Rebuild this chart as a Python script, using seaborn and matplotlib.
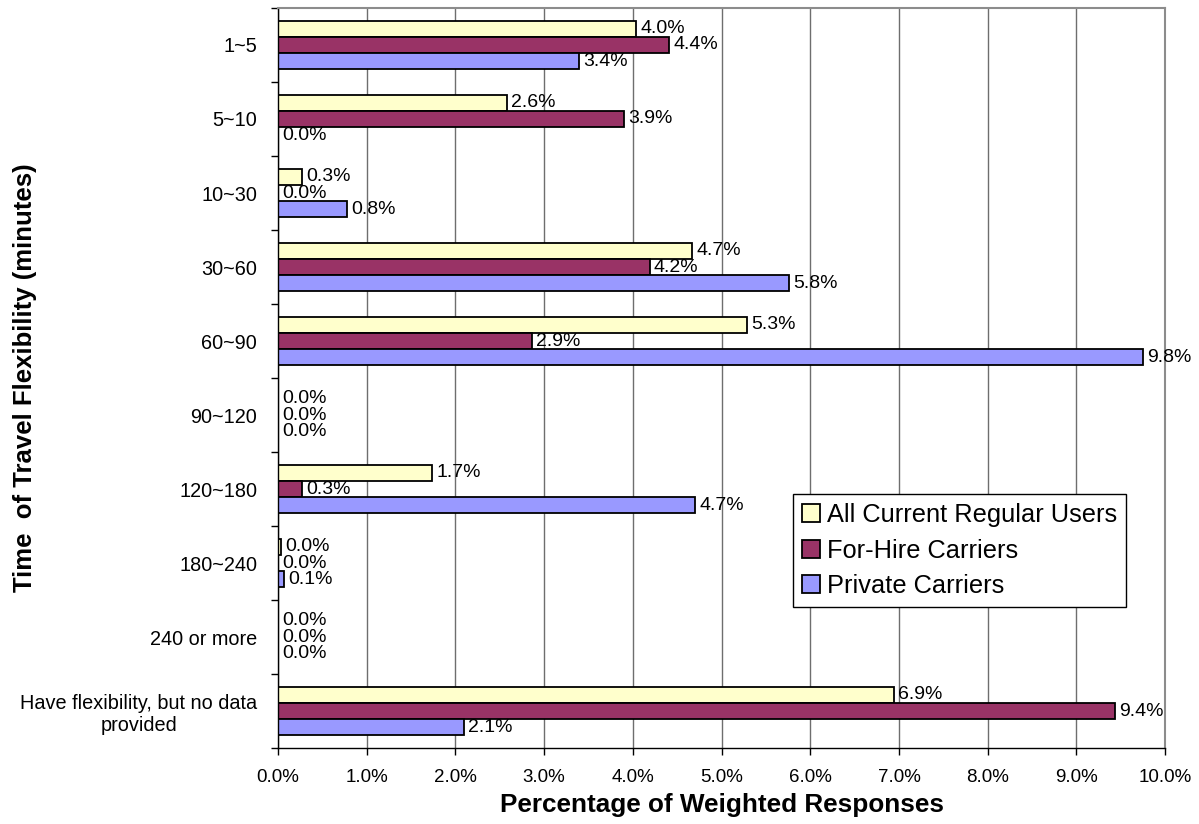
import matplotlib.pyplot as plt
from matplotlib.ticker import FixedLocator, FuncFormatter
import pandas as pd
import seaborn as sns

# values (percent of weighted responses)
categories = ["1~5", "5~10", "10~30", "30~60", "60~90", "90~120", "120~180",
              "180~240", "240 or more", "Have flexibility, but no data\nprovided"]
all_users = [4.04, 2.58, 0.27, 4.67, 5.29, 0.0, 1.74, 0.03, 0.0, 6.94]
for_hire = [4.41, 3.90, 0.0, 4.19, 2.86, 0.0, 0.27, 0.0, 0.0, 9.44]
private = [3.39, 0.0, 0.78, 5.76, 9.75, 0.0, 4.70, 0.07, 0.0, 2.10]
series_names = ["All Current Regular Users", "For-Hire Carriers", "Private Carriers"]
colors = ["#FFFFCC", "#993366", "#9999FF"]

df = pd.DataFrame({
    "category": categories * 3,
    "series": [s for s in series_names for _ in categories],
    "value": all_users + for_hire + private,
})

sns.set_style("white")
plt.rcParams["font.family"] = ["Liberation Sans", "DejaVu Sans"]
plt.rcParams.update({"text.color": "black", "axes.labelcolor": "black",
                     "xtick.color": "black", "ytick.color": "black"})

fig = plt.figure(figsize=(11.99, 8.24), dpi=100)
ax = fig.add_axes([0.2319, 0.0922, 0.7398, 0.8981])

sns.barplot(data=df, x="value", y="category", hue="series", orient="h",
            palette=colors, saturation=1, width=0.66, errorbar=None,
            edgecolor="black", linewidth=1.3, ax=ax)

# value labels at the end of every bar
for cont in ax.containers:
    ax.bar_label(cont, fmt="%.1f%%", padding=3, fontsize=14)

ax.set_xlim(0, 10)
ax.set_ylim(len(categories) - 0.5, -0.5)

# gridlines and frame
ax.set_axisbelow(True)
ax.xaxis.grid(True, color="#6e6e6e", linewidth=1)
ax.yaxis.grid(False)
for side in ["left", "bottom"]:
    ax.spines[side].set_color("black")
    ax.spines[side].set_linewidth(1)
for side in ["top", "right"]:
    ax.spines[side].set_color("#8c8c8c")
    ax.spines[side].set_linewidth(1.5)

ax.xaxis.set_major_locator(FixedLocator(range(0, 11)))
ax.xaxis.set_major_formatter(FuncFormatter(lambda v, p: f"{v:.1f}%"))
ax.tick_params(axis="x", length=5, width=1, color="black", direction="out",
               pad=10, labelsize=13.5, bottom=True)
ax.yaxis.set_minor_locator(FixedLocator([i - 0.5 for i in range(len(categories) + 1)]))
ax.tick_params(axis="y", which="major", length=0, pad=15, labelsize=14.3)
ax.tick_params(axis="y", which="minor", length=5, width=1, color="black",
               direction="out", left=True)
for lab in ax.get_yticklabels():
    lab.set_multialignment("center")

ax.set_xlabel("Percentage of Weighted Responses", fontsize=18.8,
              fontweight="bold", labelpad=5)
ax.set_ylabel("Time  of Travel Flexibility (minutes)", fontsize=18.5,
              fontweight="bold")
ax.yaxis.set_label_coords(-0.272, 0.5)

leg = ax.legend(loc="upper left", bbox_to_anchor=(0.5806, 0.343),
                fontsize=18.3, frameon=True, fancybox=False, framealpha=1,
                edgecolor="black", handlelength=0.7, handleheight=0.7,
                handletextpad=0.3, labelspacing=0.45, borderpad=0.35,
                borderaxespad=0)
leg.get_frame().set_linewidth(1)

fig.savefig("out.png", dpi=100)
